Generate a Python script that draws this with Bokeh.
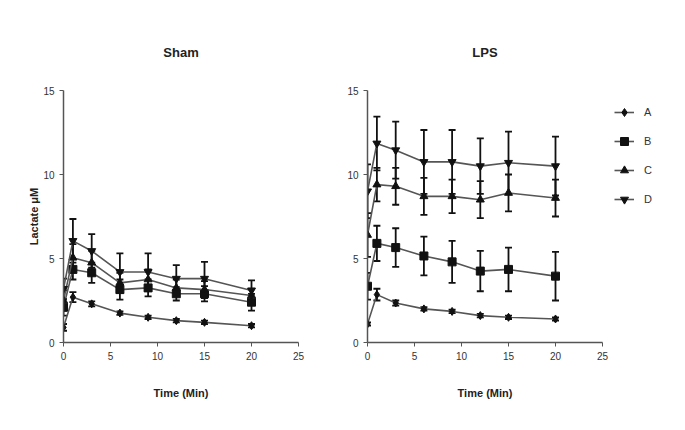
from bokeh.plotting import figure
from bokeh.layouts import row
from bokeh.models import Range1d, ColumnDataSource, Whisker, TeeHead, Legend, LegendItem, FixedTicker
from bokeh.embed import file_html
from bokeh.resources import INLINE

time = [0, 1, 3, 6, 9, 12, 15, 20]
groups = ["A", "B", "C", "D"]
markers = ["diamond", "square", "triangle", "inverted_triangle"]

sham_A = [0.9, 2.7, 2.3, 1.75, 1.5, 1.3, 1.2, 1.0]
sham_A_err = [0.2, 0.3, 0.15, 0.1, 0.1, 0.1, 0.1, 0.1]
sham_B = [2.1, 4.35, 4.15, 3.15, 3.25, 2.9, 2.9, 2.4]
sham_B_err = [0.5, 0.6, 0.6, 0.6, 0.5, 0.4, 0.45, 0.5]
sham_C = [2.5, 5.05, 4.75, 3.55, 3.75, 3.25, 3.15, 2.8]
sham_C_err = [0.6, 0.8, 0.7, 0.6, 0.6, 0.5, 0.5, 0.4]
sham_D = [3.2, 6.05, 5.45, 4.2, 4.2, 3.8, 3.8, 3.1]
sham_D_err = [0.6, 1.3, 1.0, 1.1, 1.1, 0.8, 1.0, 0.6]

lps_A = [1.1, 2.85, 2.35, 2.0, 1.85, 1.6, 1.5, 1.4]
lps_A_err = [0.1, 0.35, 0.15, 0.1, 0.1, 0.1, 0.1, 0.1]
lps_B = [3.35, 5.9, 5.65, 5.15, 4.8, 4.25, 4.35, 3.95]
lps_B_err = [0.8, 1.05, 1.15, 1.15, 1.25, 1.2, 1.3, 1.45]
lps_C = [6.4, 9.4, 9.3, 8.7, 8.7, 8.5, 8.9, 8.6]
lps_C_err = [1.3, 1.0, 1.1, 1.1, 1.0, 1.1, 1.1, 1.1]
lps_D = [9.0, 11.85, 11.45, 10.75, 10.75, 10.5, 10.7, 10.5]
lps_D_err = [1.6, 1.6, 1.7, 1.9, 1.9, 1.65, 1.85, 1.75]

x_ticks = [0, 5, 10, 15, 20, 25]
y_ticks = [0, 5, 10, 15]

FONT = "Liberation Sans"
AX = "#555555"


def panel(title, series, errs, left_border, right_border, with_ylabel):
    p = figure(frame_width=235, frame_height=252, output_backend="svg",
               toolbar_location=None, x_range=Range1d(0, 25), y_range=Range1d(0, 15),
               min_border_left=left_border, min_border_right=right_border,
               min_border_top=90, min_border_bottom=72, title=title)
    p.title.align = "center"
    p.title.text_font = FONT
    p.title.text_font_size = "13px"
    p.title.text_font_style = "bold"
    p.title.text_color = "#222222"
    p.title.standoff = 62
    p.outline_line_color = None
    p.xgrid.visible = False
    p.ygrid.visible = False
    p.background_fill_color = "white"
    p.border_fill_color = "white"
    for ax in (p.xaxis[0], p.yaxis[0]):
        ax.axis_line_color = AX
        ax.axis_line_width = 1.5
        ax.major_tick_line_color = AX
        ax.major_tick_out = 4
        ax.major_tick_in = 0
        ax.minor_tick_line_color = None
        ax.major_label_text_font = FONT
        ax.major_label_text_font_size = "10px"
        ax.major_label_text_color = "#333333"
        ax.axis_label_text_font = FONT
        ax.axis_label_text_font_size = "11px"
        ax.axis_label_text_font_style = "bold"
        ax.axis_label_text_color = "#222222"
    p.xaxis.ticker = FixedTicker(ticks=x_ticks)
    p.yaxis.ticker = FixedTicker(ticks=y_ticks)
    p.xaxis.axis_label = "Time (Min)"
    p.xaxis.axis_label_standoff = 24
    if with_ylabel:
        p.yaxis.axis_label = "Lactate \u03bcM"
        p.yaxis.axis_label_standoff = 0
    items = []
    for name, mk, ys, es in zip(groups, markers, series, errs):
        src = ColumnDataSource(dict(x=time, y=ys,
                                    lo=[a - b for a, b in zip(ys, es)],
                                    hi=[a + b for a, b in zip(ys, es)]))
        w = Whisker(source=src, base="x", lower="lo", upper="hi",
                    line_color="#111111", line_width=1.8,
                    upper_head=TeeHead(size=7, line_color="#111111", line_width=1.8),
                    lower_head=TeeHead(size=7, line_color="#111111", line_width=1.8))
        p.add_layout(w)
        ln = p.line("x", "y", source=src, line_color="#555555", line_width=1.6)
        sc = p.scatter("x", "y", source=src, marker=mk, size=8,
                       fill_color="#111111", line_color="#111111")
        items.append(LegendItem(label=name, renderers=[ln, sc]))
    return p, items


p1, _ = panel("Sham", [sham_A, sham_B, sham_C, sham_D],
              [sham_A_err, sham_B_err, sham_C_err, sham_D_err], 63, 10, True)
p2, items = panel("LPS", [lps_A, lps_B, lps_C, lps_D],
                  [lps_A_err, lps_B_err, lps_C_err, lps_D_err], 59, 0, False)

legend = Legend(items=items, location="top_left", margin=12, padding=0,
                glyph_width=20, glyph_height=20, spacing=9, label_standoff=10,
                label_text_font=FONT, label_text_font_size="11px",
                label_text_color="#333333", border_line_color=None,
                background_fill_alpha=0)
p2.add_layout(legend, "right")

layout = row(p1, p2)
open("out.html", "w").write(file_html(layout, INLINE))
